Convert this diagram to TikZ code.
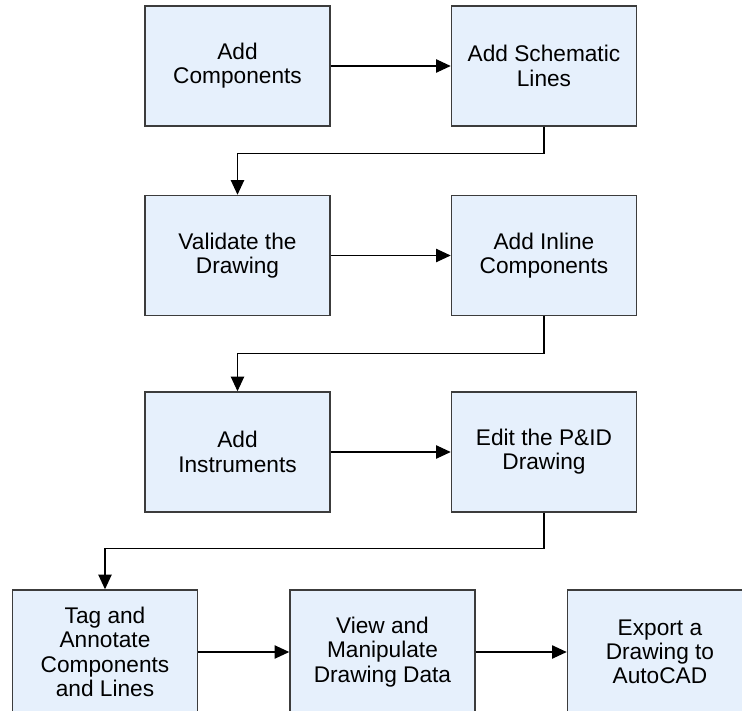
\documentclass[tikz,border=0pt]{standalone}
\usepackage{fontspec}
\setmainfont{Liberation Sans}
\usetikzlibrary{positioning,arrows.meta}
\definecolor{boxfill}{HTML}{E6F0FC}
\definecolor{boxline}{HTML}{3C3C3C}

\begin{document}
\begin{tikzpicture}[x=0.75pt, y=-0.75pt,
  main/.style = {draw=boxline, fill=boxfill, line width=1.1pt, minimum width=138.75pt, minimum height=90pt, align=center, inner sep=2pt, font=\fontsize{17}{18.2}\selectfont},
  low/.style = {main, minimum height=93pt},
  flow/.style = {-{Triangle[length=11pt,width=10pt]}, line width=0.9pt}]
\clip (0,0) rectangle (742,710);
\node[main] (comp) at (237.5,66) {Add\\Components};
\node[main] (lines) [right=90pt of comp] {Add Schematic\\Lines};
\node[main] (valid) at (237.5,255.5) {Validate the\\Drawing};
\node[main] (inline) [right=90pt of valid] {Add Inline\\Components};
\node[main] (instr) at (237.5,452) {Add\\Instruments};
\node[main] (edit) [right=90pt of instr] {Edit the P\&ID\\Drawing};
\node[low] (tag) at (105,652) {Tag and\\Annotate\\Components\\and Lines};
\node[low] (view) [right=68.25pt of tag] {View and\\Manipulate\\Drawing Data};
\node[low] (export) [right=68.25pt of view] {Export a\\Drawing to\\AutoCAD};
\draw[flow] (comp) -- (lines);
\draw[flow] (lines.south) -- ++(0,27) -| (valid.north);
\draw[flow] (valid) -- (inline);
\draw[flow] (inline.south) -- ++(0,37) -| (instr.north);
\draw[flow] (instr) -- (edit);
\draw[flow] (edit.south) -- ++(0,36) -| (tag.north);
\draw[flow] (tag) -- (view);
\draw[flow] (view) -- (export);
\end{tikzpicture}
\end{document}
